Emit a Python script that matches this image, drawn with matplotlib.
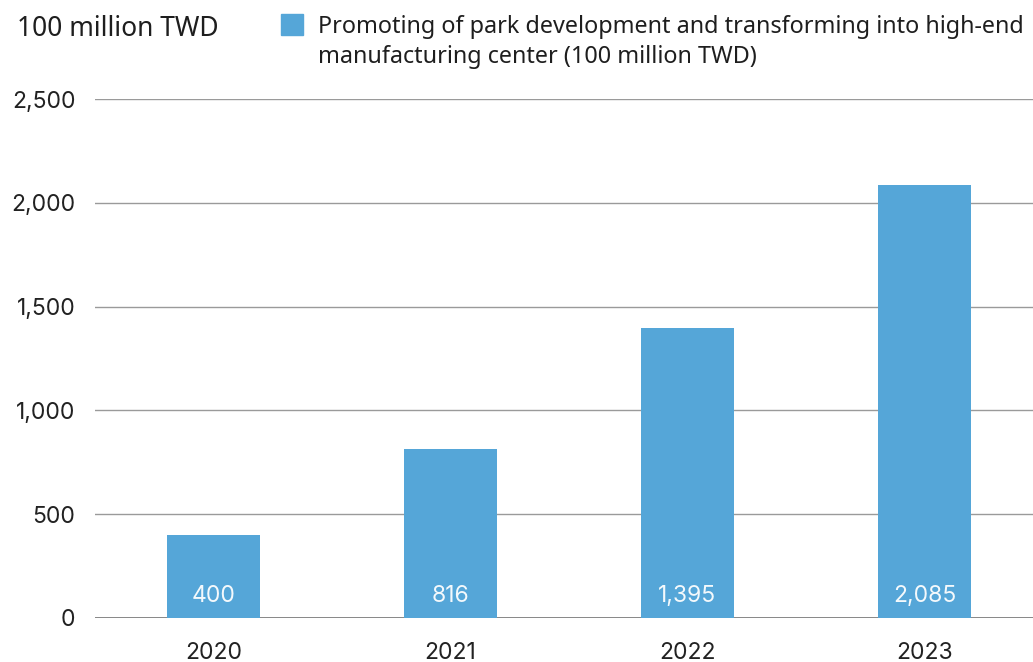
import matplotlib.pyplot as plt
from matplotlib.patches import Rectangle

# Values in 100 million TWD
years = ["2020", "2021", "2022", "2023"]
amounts = [400, 816, 1395, 2085]
amount_labels = ["400", "816", "1,395", "2,085"]
yticks = [0, 500, 1000, 1500, 2000, 2500]
ytick_labels = ["0", "500", "1,000", "1,500", "2,000", "2,500"]

BAR_COLOR = "#55a6d8"
NUM_FONT = ["Inter", "DejaVu Sans"]

plt.rcParams["font.family"] = ["Noto Sans", "DejaVu Sans"]

fig = plt.figure(figsize=(10.33, 6.62), dpi=100)
ax = fig.add_axes([95 / 1033, 1 - 618 / 662, (1033 - 95) / 1033, (618 - 99) / 662])

x = list(range(len(years)))
ax.bar(x, amounts, width=0.39, color=BAR_COLOR, zorder=3)
for xi, v, lab in zip(x, amounts, amount_labels):
    ax.text(xi, 105, lab, ha="center", va="center", color="#f4f9fc",
            fontsize=16.5, family=NUM_FONT, zorder=4)

ax.set_xlim(-0.5, 3.458)
ax.set_ylim(0, 2500)
ax.set_yticks(yticks)
ax.set_yticklabels(ytick_labels)
ax.set_xticks(x)
ax.set_xticklabels(years)
ax.tick_params(axis="both", length=0, labelsize=16.5, colors="#222222")
ax.tick_params(axis="y", pad=14)
ax.tick_params(axis="x", pad=17)
for lbl in ax.get_xticklabels() + ax.get_yticklabels():
    lbl.set_family(NUM_FONT)

ax.grid(axis="y", color="#9a9a9a", linewidth=1, zorder=0)
ax.set_axisbelow(True)
for s in ax.spines.values():
    s.set_visible(False)
ax.axhline(0, color="#777777", linewidth=1.2, zorder=2)

# Unit label and legend above the plot
fig.text(17 / 1033, 1 - 29 / 662, "100 million TWD", fontsize=19,
         color="#1e1e1e", va="center", ha="left")
fig.patches.append(Rectangle((281 / 1033, 1 - 35 / 662), 22 / 1033, 21 / 662,
                             transform=fig.transFigure, color=BAR_COLOR))
fig.text(318 / 1033, 1 - 42 / 662,
         "Promoting of park development and transforming into high-end\n"
         "manufacturing center (100 million TWD)",
         fontsize=16.8, color="#1e1e1e", va="center", ha="left", linespacing=1.28)

fig.savefig("out.png", dpi=100)
